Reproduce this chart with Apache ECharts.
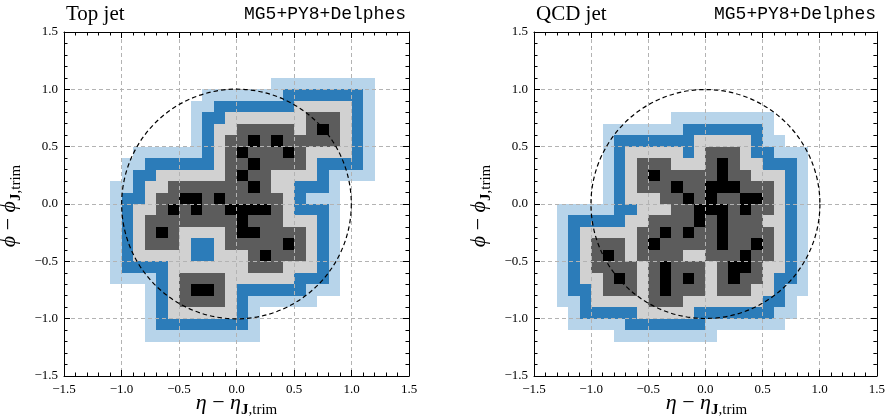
<!DOCTYPE html>
<html><head><meta charset="utf-8">
<script src="https://cdn.jsdelivr.net/npm/echarts@6/dist/echarts.min.js"></script>
<style>html,body{margin:0;padding:0;background:#fff}#c{width:888px;height:417px}</style>
</head><body><div id="c"></div>
<script>
const panelTitles = ['Top jet', 'QCD jet'];
const generatorLabel = 'MG5+PY8+Delphes';
const tickValues = [-1.5, -1.0, -0.5, 0.0, 0.5, 1.0, 1.5];
const cellSize = 0.1;
const circleCenter = [0, 0];
const circleRadius = 1.0;
// 0 empty, 1 light blue, 2 blue, 3 light grey, 4 dark grey, 5 black
const levelColors = ['#ffffff', '#b7d4ea', '#2c7cb9', '#d1d1d1', '#5c5c5c', '#000000'];

// Top jet: one string per cell row, top row = row 10 (y 1.0..1.1), first column = col -11 (x -1.1..-1.0)
const topRowStart = 10, topColStart = -11;
const topJetRows = [
  '00000000000000111111111',
  '00000000111111122222221',
  '00000001122222223333321',
  '00000001223333333444321',
  '00000001233444443454321',
  '00000001234454544444321',
  '00111111234544454333321',
  '01122222234454444322221',
  '01223333334544333321111',
  '11233444444454332221000',
  '12234455454444432111000',
  '12334545445555432221000',
  '12344444444544433321000',
  '12345433334554444321000',
  '12344432234444454321000',
  '12333332233345444321000',
  '12222333333344433321000',
  '11112344443333332221000',
  '00012345543222222111000',
  '00012344443211111100000',
  '00012333333210000000000',
  '00012222222210000000000',
  '00011111111110000000000'
];
// QCD jet: top row = row 7 (y 0.7..0.8), first column = col -13 (x -1.3..-1.2)
const qcdRowStart = 7, qcdColStart = -13;
const qcdJetRows = [
  '0000000000111111111000',
  '0000111111122222221000',
  '0000122222223333321100',
  '0000123333323444322111',
  '0000123444333454332221',
  '0000123454444454433321',
  '0000123444544555444321',
  '0000123334454544554321',
  '1111122333445554544321',
  '1222223344445454443321',
  '1233333445454454444321',
  '1234443454444454454321',
  '1234543444433444544321',
  '1234444345444345543321',
  '1233454345454345443221',
  '1223444345444344433211',
  '1123333344433333332210',
  '0122222333332222222110',
  '0111112222222111111100',
  '0000011111111100000000'
];

function cellsFromRows(rows, rowTop, colLeft){
  const out = [];
  rows.forEach((s, i) => {
    const r = rowTop - i;
    for (let j = 0; j < s.length; j++) {
      const lv = +s[j];
      if (lv > 0) out.push([(colLeft + j) * cellSize, r * cellSize, lv]);
    }
  });
  return out;
}

const chart = echarts.init(document.getElementById('c'), null, {renderer: 'canvas'});
const fmt = v => (v < 0 ? '\u2212' : '') + Math.abs(v).toFixed(1);
const lblFont = {fontFamily: 'Liberation Serif', fontSize: 13, color: '#000'};
function axisCommon(gi, pos, main){
  return {type: 'value', gridIndex: gi, position: pos, min: tickValues[0], max: tickValues[tickValues.length-1], interval: 0.5, z: 5,
    axisLine: {show: true, onZero: false, lineStyle: {color: '#000', width: 1}},
    axisTick: {show: true, inside: true, length: 6, lineStyle: {color: '#000', width: 1}},
    minorTick: {show: true, splitNumber: 5, length: 3.5, lineStyle: {color: '#000', width: 1}},
    splitLine: {show: main, lineStyle: {color: '#b3b3b3', width: 1, type: [4, 3]}}};
}
function xAx(gi, pos){
  const main = pos === 'bottom';
  return Object.assign(axisCommon(gi, pos, main), {axisLabel: Object.assign({show: main, margin: 7, formatter: fmt}, lblFont)});
}
function yAx(gi, pos){
  const main = pos === 'left';
  return Object.assign(axisCommon(gi, pos, main), {axisLabel: Object.assign({show: main, margin: 6, formatter: fmt}, lblFont)});
}
function renderCell(params, api){
  const x0 = api.value(0), y0 = api.value(1), lv = api.value(2);
  const p1 = api.coord([x0, y0 + cellSize]);
  const p2 = api.coord([x0 + cellSize, y0]);
  const xa = Math.round(p1[0]), ya = Math.round(p1[1]), xb = Math.round(p2[0]), yb = Math.round(p2[1]);
  return {type: 'rect', shape: {x: xa, y: ya, width: xb - xa, height: yb - ya}, style: {fill: levelColors[lv]}};
}
function renderCircle(params, api){
  const c = api.coord([api.value(0), api.value(1)]);
  const s = api.size([api.value(2), api.value(2)]);
  return {type: 'circle', shape: {cx: c[0], cy: c[1], r: (s[0] + s[1]) / 2}, style: {fill: 'none', stroke: '#000', lineWidth: 1.2, lineDash: [4.5, 3]}};
}
const grids = [{left: 64, top: 32, width: 345, height: 344}, {left: 534, top: 32, width: 345, height: 344}];
const panels = [cellsFromRows(topJetRows, topRowStart, topColStart), cellsFromRows(qcdJetRows, qcdRowStart, qcdColStart)];
const series = [];
panels.forEach((cells, i) => {
  series.push({type: 'custom', xAxisIndex: 2*i, yAxisIndex: 2*i, z: 2, renderItem: renderCell, data: cells, silent: true, animation: false});
  series.push({type: 'custom', xAxisIndex: 2*i, yAxisIndex: 2*i, z: 6, renderItem: renderCircle, data: [[circleCenter[0], circleCenter[1], circleRadius]], silent: true, animation: false});
});
const xName = '{i|\u03b7}{o| \u2212 }{i|\u03b7}{b|J}{s|,trim}';
const yName = '{i|\u03d5}{o| \u2212 }{i|\u03d5}{b|J}{s|,trim}';
const nameRich = {
  i: {fontFamily: 'Liberation Serif', fontStyle: 'italic', fontSize: 22, verticalAlign: 'bottom', padding: [0, 0, 4, 0]},
  o: {fontFamily: 'Liberation Serif', fontSize: 22, verticalAlign: 'bottom', padding: [0, 0, 4, 0]},
  b: {fontFamily: 'Liberation Serif', fontWeight: 'bold', fontSize: 15, verticalAlign: 'bottom'},
  s: {fontFamily: 'Liberation Serif', fontSize: 15, verticalAlign: 'bottom'}
};
const graphics = [];
grids.forEach((g, i) => {
  graphics.push({type: 'text', x: g.left + 2, y: 14, style: {text: panelTitles[i], font: '21px "Liberation Serif"', fill: '#000', align: 'left', verticalAlign: 'middle'}});
  graphics.push({type: 'text', x: g.left + g.width - 3, y: 14, style: {text: generatorLabel, font: '18px "Liberation Mono"', fill: '#000', align: 'right', verticalAlign: 'middle'}});
  graphics.push({type: 'text', x: g.left + g.width / 2, y: 392, style: {text: xName, rich: nameRich, fill: '#000', align: 'center', verticalAlign: 'top'}});
  graphics.push({type: 'text', x: g.left - 66, y: g.top + g.height / 2 + 2, rotation: Math.PI / 2, style: {text: yName, rich: nameRich, fill: '#000', align: 'center', verticalAlign: 'top'}});
});
chart.setOption({
  animation: false,
  grid: grids,
  xAxis: [xAx(0, 'bottom'), xAx(0, 'top'), xAx(1, 'bottom'), xAx(1, 'top')],
  yAxis: [yAx(0, 'left'), yAx(0, 'right'), yAx(1, 'left'), yAx(1, 'right')],
  series: series,
  graphic: graphics
});
</script></body></html>
